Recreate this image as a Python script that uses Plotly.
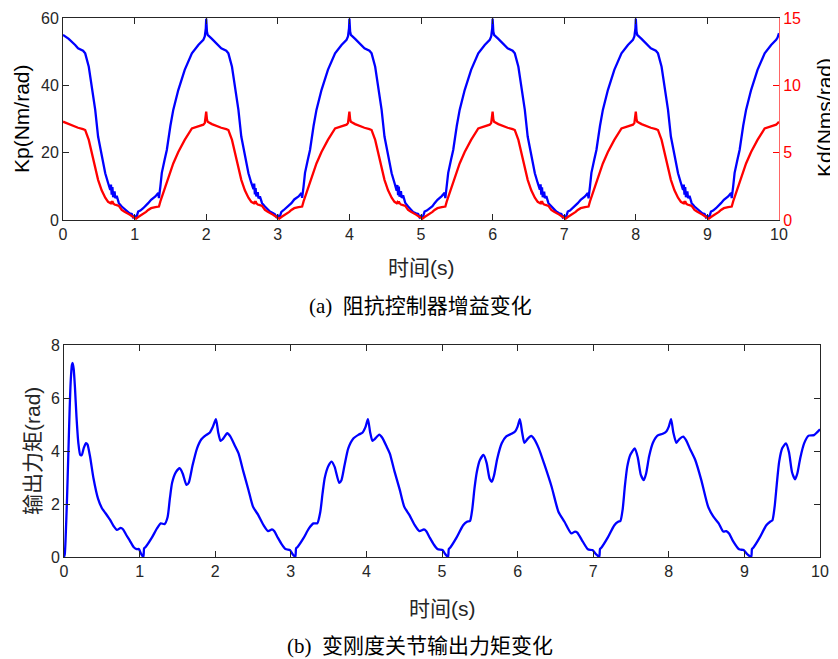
import plotly.graph_objects as go

# ---------------- data: (a) impedance controller gains ----------------
t_c1 = [0, 0.08, 0.17, 0.21, 0.28, 0.31, 0.36, 0.40, 0.45, 0.49, 0.54, 0.59, 0.63, 0.66, 0.67, 0.68, 0.69, 0.70, 0.72, 0.73, 0.75, 0.78, 0.82, 0.86, 0.89, 0.93, 0.96, 0.98, 1.00, 1.02, 1.05, 1.08, 1.12, 1.16, 1.19, 1.23, 1.29, 1.33, 1.34, 1.36, 1.38, 1.42, 1.45, 1.50, 1.54, 1.61, 1.70, 1.80, 1.85, 1.89, 1.96, 1.98, 1.995]
t_c2 = [2.00, 2.01, 2.02, 2.08, 2.17, 2.21, 2.28, 2.31, 2.36, 2.40, 2.45, 2.49, 2.54, 2.59, 2.63, 2.66, 2.67, 2.68, 2.69, 2.70, 2.72, 2.73, 2.75, 2.78, 2.82, 2.86, 2.89, 2.93, 2.96, 2.98, 3.00, 3.02, 3.05, 3.08, 3.12, 3.16, 3.19, 3.23, 3.29, 3.33, 3.34, 3.36, 3.38, 3.42, 3.45, 3.50, 3.54, 3.61, 3.70, 3.80, 3.85, 3.89, 3.96, 3.98, 3.995]
t_c3 = [4.00, 4.01, 4.02, 4.08, 4.17, 4.21, 4.28, 4.31, 4.36, 4.40, 4.45, 4.49, 4.54, 4.59, 4.63, 4.66, 4.67, 4.68, 4.69, 4.70, 4.72, 4.73, 4.75, 4.78, 4.82, 4.86, 4.89, 4.93, 4.96, 4.98, 5.00, 5.02, 5.05, 5.08, 5.12, 5.16, 5.19, 5.23, 5.29, 5.33, 5.34, 5.36, 5.38, 5.42, 5.45, 5.50, 5.54, 5.61, 5.70, 5.80, 5.85, 5.89, 5.96, 5.98, 5.995]
t_c4 = [6.00, 6.01, 6.02, 6.08, 6.17, 6.21, 6.28, 6.31, 6.36, 6.40, 6.45, 6.49, 6.54, 6.59, 6.63, 6.66, 6.67, 6.68, 6.69, 6.70, 6.72, 6.73, 6.75, 6.78, 6.82, 6.86, 6.89, 6.93, 6.96, 6.98, 7.00, 7.02, 7.05, 7.08, 7.12, 7.16, 7.19, 7.23, 7.29, 7.33, 7.34, 7.36, 7.38, 7.42, 7.45, 7.50, 7.54, 7.61, 7.70, 7.80, 7.85, 7.89, 7.96, 7.98, 7.995]
t_c5 = [8.00, 8.01, 8.02, 8.08, 8.17, 8.21, 8.28, 8.31, 8.36, 8.40, 8.45, 8.49, 8.54, 8.59, 8.63, 8.66, 8.67, 8.68, 8.69, 8.70, 8.72, 8.73, 8.75, 8.78, 8.82, 8.86, 8.89, 8.93, 8.96, 8.98, 9.00, 9.02, 9.05, 9.08, 9.12, 9.16, 9.19, 9.23, 9.29, 9.33, 9.34, 9.36, 9.38, 9.42, 9.45, 9.50, 9.54, 9.61, 9.70, 9.80, 9.85, 9.89, 9.96, 9.98, 10.0]

kp_c1 = [55, 53.8, 52, 51, 50.3, 49.5, 45.5, 39.6, 32.7, 24.8, 18.8, 13.9, 11, 8.9, 10.5, 7.5, 9.8, 6.8, 8.5, 6.5, 7.2, 5, 4, 3.2, 2.5, 2, 1.8, 0.8, 1.2, 0.5, 2.5, 2.8, 3.5, 4.2, 5, 6, 7, 8, 6.5, 10, 14, 18, 20.8, 28, 32.7, 38.6, 44.6, 49.5, 51, 52, 53.5, 54.5, 57]
kp_c2 = [59.8, 56, 55, 53.8, 52, 51, 50.3, 49.5, 45.5, 39.6, 32.7, 24.8, 18.8, 13.9, 11, 9.2, 10.8, 7.6, 9.5, 7.0, 8.3, 6.4, 7.0, 5, 4, 3.1, 2.5, 2.1, 1.7, 0.9, 1.3, 0.5, 2.4, 2.9, 3.6, 4.2, 5, 6.1, 7, 8, 6.6, 10, 14, 18, 20.8, 28, 32.7, 38.6, 44.6, 49.5, 51, 52, 53.5, 54.5, 57]
kp_c3 = [59.8, 56, 55, 53.8, 52, 51, 50.3, 49.5, 45.5, 39.6, 32.7, 24.8, 18.8, 13.9, 11, 8.7, 10.4, 7.4, 9.9, 6.9, 8.6, 6.6, 7.3, 5.1, 4, 3.2, 2.4, 2, 1.8, 0.8, 1.2, 0.4, 2.5, 2.8, 3.4, 4.1, 5, 6, 7.1, 8.1, 6.5, 10, 14, 18, 20.8, 28, 32.7, 38.6, 44.6, 49.5, 51, 52, 53.5, 54.5, 57]
kp_c4 = [59.8, 56, 55, 53.8, 52, 51, 50.3, 49.5, 45.5, 39.6, 32.7, 24.8, 18.8, 13.9, 11, 9.0, 10.6, 7.5, 9.7, 6.8, 8.4, 6.5, 7.1, 5, 4.1, 3.2, 2.5, 2, 1.8, 0.8, 1.2, 0.5, 2.5, 2.8, 3.5, 4.2, 5, 6, 7, 8, 6.4, 10, 14, 18, 20.8, 28, 32.7, 38.6, 44.6, 49.5, 51, 52, 53.5, 54.5, 57]
kp_c5 = [59.8, 56, 55, 53.8, 52, 51, 50.3, 49.5, 45.5, 39.6, 32.7, 24.8, 18.8, 13.9, 11, 8.9, 10.5, 7.5, 9.8, 6.8, 8.5, 6.5, 7.2, 5, 4, 3.2, 2.5, 2, 1.8, 0.8, 1.2, 0.5, 2.5, 2.8, 3.5, 4.2, 5, 6, 7, 8, 6.5, 10, 14, 18, 20.8, 28, 32.7, 38.6, 44.6, 49.5, 51, 52, 53.5, 54.2, 55.5]

kd_c1 = [7.30, 7.12, 6.92, 6.85, 6.75, 6.68, 5.95, 5.0, 3.88, 2.98, 2.2, 1.65, 1.35, 1.25, 1.3, 1.2, 1.4, 1.25, 1.15, 1.12, 1.1, 1.05, 0.75, 0.62, 0.5, 0.4, 0.3, 0.22, 0.12, 0.1, 0.22, 0.32, 0.45, 0.6, 0.75, 0.88, 0.95, 1.0, 1.0, 1.38, 1.7, 2.22, 2.75, 3.5, 4.2, 5.05, 5.95, 6.8, 6.9, 6.98, 7.08, 7.2, 7.62]
kd_c2 = [8.05, 7.5, 7.3, 7.12, 6.92, 6.85, 6.75, 6.68, 5.95, 5.0, 3.88, 2.98, 2.2, 1.65, 1.35, 1.25, 1.3, 1.2, 1.4, 1.25, 1.15, 1.12, 1.1, 1.05, 0.75, 0.62, 0.5, 0.4, 0.3, 0.22, 0.12, 0.1, 0.22, 0.32, 0.45, 0.6, 0.75, 0.88, 0.95, 1.0, 1.0, 1.38, 1.7, 2.22, 2.75, 3.5, 4.2, 5.05, 5.95, 6.8, 6.9, 6.98, 7.08, 7.2, 7.62]
kd_c3 = [8.05, 7.5, 7.3, 7.12, 6.92, 6.85, 6.75, 6.68, 5.95, 5.0, 3.88, 2.98, 2.2, 1.65, 1.35, 1.25, 1.32, 1.2, 1.38, 1.25, 1.15, 1.12, 1.1, 1.05, 0.75, 0.62, 0.5, 0.4, 0.3, 0.22, 0.12, 0.1, 0.22, 0.32, 0.45, 0.6, 0.75, 0.88, 0.95, 1.0, 1.0, 1.38, 1.7, 2.22, 2.75, 3.5, 4.2, 5.05, 5.95, 6.8, 6.9, 6.98, 7.08, 7.2, 7.62]
kd_c4 = [8.05, 7.5, 7.3, 7.12, 6.92, 6.85, 6.75, 6.68, 5.95, 5.0, 3.88, 2.98, 2.2, 1.65, 1.35, 1.25, 1.3, 1.2, 1.4, 1.25, 1.15, 1.12, 1.1, 1.05, 0.75, 0.62, 0.5, 0.4, 0.3, 0.22, 0.12, 0.1, 0.22, 0.32, 0.45, 0.6, 0.75, 0.88, 0.95, 1.0, 1.0, 1.38, 1.7, 2.22, 2.75, 3.5, 4.2, 5.05, 5.95, 6.8, 6.9, 6.98, 7.08, 7.2, 7.62]
kd_c5 = [8.05, 7.5, 7.3, 7.12, 6.92, 6.85, 6.75, 6.68, 5.95, 5.0, 3.88, 2.98, 2.2, 1.65, 1.35, 1.25, 1.3, 1.2, 1.4, 1.25, 1.15, 1.12, 1.1, 1.05, 0.75, 0.62, 0.5, 0.4, 0.3, 0.22, 0.12, 0.1, 0.22, 0.32, 0.45, 0.6, 0.75, 0.88, 0.95, 1.0, 1.0, 1.38, 1.7, 2.22, 2.75, 3.5, 4.2, 5.05, 5.95, 6.8, 6.9, 6.98, 7.08, 7.18, 7.3]

t_gain = t_c1 + t_c2 + t_c3 + t_c4 + t_c5
kp = kp_c1 + kp_c2 + kp_c3 + kp_c4 + kp_c5
kd = kd_c1 + kd_c2 + kd_c3 + kd_c4 + kd_c5

# ---------------- data: (b) VSJ output torque ----------------
t_tau = [0, 0.01, 0.02, 0.04, 0.057, 0.075, 0.09, 0.105, 0.115, 0.128, 0.145, 0.165, 0.19, 0.215, 0.235, 0.26, 0.29, 0.31, 0.344, 0.39, 0.45, 0.50, 0.55, 0.61, 0.66, 0.70, 0.75, 0.78, 0.82, 0.87, 0.92, 0.96, 0.99, 1.02, 1.05, 1.06, 1.08, 1.16, 1.23, 1.28, 1.33, 1.37, 1.40, 1.43, 1.48, 1.53, 1.57, 1.62, 1.65, 1.70, 1.76, 1.82, 1.88, 1.93, 1.97,
         2.01, 2.04, 2.07, 2.10, 2.16, 2.20, 2.26, 2.31, 2.37, 2.44, 2.50, 2.57, 2.64, 2.70, 2.75, 2.78, 2.83, 2.88, 2.93, 2.99, 3.02, 3.06, 3.07, 3.09, 3.17, 3.24, 3.30, 3.35, 3.39, 3.42, 3.45, 3.50, 3.54, 3.58, 3.64, 3.67, 3.71, 3.76, 3.83, 3.90, 3.95, 3.99,
         4.02, 4.05, 4.08, 4.11, 4.17, 4.21, 4.27, 4.31, 4.37, 4.44, 4.50, 4.57, 4.64, 4.70, 4.76, 4.79, 4.84, 4.89, 4.94, 5.01, 5.04, 5.08, 5.09, 5.11, 5.19, 5.28, 5.33, 5.37, 5.40, 5.43, 5.46, 5.50, 5.55, 5.59, 5.63, 5.66, 5.69, 5.73, 5.79, 5.85, 5.92, 5.97, 6.00,
         6.03, 6.06, 6.09, 6.13, 6.18, 6.22, 6.28, 6.35, 6.45, 6.54, 6.62, 6.71, 6.76, 6.79, 6.85, 6.93, 6.99, 7.04, 7.08, 7.09, 7.11, 7.19, 7.28, 7.33, 7.36, 7.39, 7.42, 7.45, 7.49, 7.55, 7.59, 7.63, 7.67, 7.70, 7.74, 7.79, 7.85, 7.92, 7.97, 8.00,
         8.03, 8.06, 8.10, 8.14, 8.19, 8.23, 8.28, 8.35, 8.43, 8.52, 8.59, 8.66, 8.72, 8.76, 8.80, 8.85, 8.93, 8.99, 9.04, 9.09, 9.10, 9.12, 9.20, 9.29, 9.34, 9.37, 9.40, 9.43, 9.46, 9.50, 9.55, 9.59, 9.63, 9.67, 9.70, 9.74, 9.79, 9.85, 9.92, 9.96, 10.0]
tau = [0, 0.1, 0.6, 2.2, 3.85, 5.6, 6.7, 7.25, 7.32, 7.1, 6.4, 5.3, 4.3, 3.85, 3.85, 4.1, 4.3, 4.25, 3.8, 2.97, 2.2, 1.85, 1.65, 1.4, 1.15, 1.02, 1.1, 1.05, 0.85, 0.62, 0.38, 0.3, 0.3, 0.12, 0, 0.33, 0.38, 0.72, 1.08, 1.27, 1.24, 1.5, 2.2, 2.8, 3.2, 3.35, 3.15, 2.72, 2.8, 3.45, 4.1, 4.45, 4.6, 4.7, 4.92,
       5.2, 4.7, 4.38, 4.45, 4.67, 4.55, 4.2, 3.9, 3.25, 2.53, 1.9, 1.58, 1.2, 0.98, 1.04, 0.98, 0.72, 0.48, 0.3, 0.26, 0.12, 0, 0.33, 0.38, 0.72, 1.08, 1.27, 1.27, 1.7, 2.4, 3.0, 3.45, 3.6, 3.4, 2.8, 2.9, 3.45, 4.1, 4.48, 4.62, 4.7, 4.92,
       5.2, 4.7, 4.38, 4.45, 4.62, 4.5, 4.15, 3.9, 3.25, 2.55, 1.9, 1.58, 1.2, 0.98, 1.04, 0.98, 0.72, 0.48, 0.3, 0.26, 0.12, 0, 0.3, 0.36, 0.72, 1.2, 1.33, 1.36, 1.8, 2.6, 3.2, 3.65, 3.85, 3.55, 2.95, 2.84, 3.1, 3.7, 4.29, 4.55, 4.65, 4.75, 4.92,
       5.2, 4.7, 4.31, 4.45, 4.57, 4.45, 4.1, 3.53, 2.65, 1.71, 1.33, 0.89, 0.96, 0.92, 0.64, 0.29, 0.26, 0.1, 0, 0.3, 0.36, 0.72, 1.2, 1.33, 1.36, 1.8, 2.7, 3.4, 3.85, 4.1, 3.75, 3.1, 2.9, 3.15, 3.8, 4.31, 4.58, 4.65, 4.75, 4.92,
       5.2, 4.7, 4.31, 4.45, 4.54, 4.4, 4.08, 3.66, 2.9, 1.9, 1.52, 1.27, 0.96, 0.98, 0.88, 0.6, 0.29, 0.26, 0.1, 0, 0.3, 0.36, 0.72, 1.2, 1.33, 1.38, 1.9, 2.8, 3.6, 4.1, 4.29, 3.95, 3.2, 2.93, 3.15, 3.75, 4.29, 4.58, 4.6, 4.7, 4.82]

x_ticks = [0, 1, 2, 3, 4, 5, 6, 7, 8, 9, 10]
kp_ticks = [0, 20, 40, 60]
kd_ticks = [0, 5, 10, 15]
tau_ticks = [0, 2, 4, 6, 8]

# page offset of the figure (browser body margin) compensated here
OFF = 8
W, H = 838 - OFF, 659 - OFF
AX = "#262626"
FONT = "Liberation Sans, Arial, Noto Sans CJK SC"
SERIF = "Liberation Serif, Noto Sans CJK SC"

def px_x(p):
    return (p - OFF) / W

def px_y(p):
    return 1 - (p - OFF) / H

fig = go.Figure()
fig.add_trace(go.Scatter(x=t_gain, y=kp, mode="lines", line=dict(color="#0000ff", width=2.3),
                         xaxis="x", yaxis="y", showlegend=False))
fig.add_trace(go.Scatter(x=t_gain, y=kd, mode="lines", line=dict(color="#ff0000", width=2.3),
                         xaxis="x", yaxis="y2", showlegend=False))
fig.add_trace(go.Scatter(x=t_tau, y=tau, mode="lines", line=dict(color="#0000ff", width=2.3, shape="spline", smoothing=0.6),
                         xaxis="x2", yaxis="y3", showlegend=False))

common_ax = dict(showline=True, linecolor=AX, linewidth=1, ticks="inside", ticklen=6, tickcolor=AX,
                 showgrid=False, zeroline=False, automargin=False,
                 tickfont=dict(family=FONT, size=16, color=AX))

fig.update_layout(
    template="none",
    width=W, height=H, autosize=False,
    margin=dict(l=0, r=0, t=0, b=0, pad=0),
    paper_bgcolor="white", plot_bgcolor="white",
    xaxis=dict(domain=[px_x(63), px_x(779)], anchor="y", range=[0, 10], tickvals=x_ticks,
               mirror="ticks", **common_ax),
    yaxis=dict(domain=[px_y(220), px_y(18)], anchor="x", range=[0, 60], tickvals=kp_ticks, **common_ax),
    yaxis2=dict(overlaying="y", side="right", anchor="x", range=[0, 15], tickvals=kd_ticks,
                showline=True, linecolor="#ff6666", linewidth=1, ticks="inside", ticklen=6, tickcolor="#ff0000",
                showgrid=False, zeroline=False, automargin=False,
                tickfont=dict(family=FONT, size=16, color="#ff0000")),
    xaxis2=dict(domain=[px_x(64), px_x(820)], anchor="y3", range=[0, 10], tickvals=x_ticks,
                mirror="ticks", **common_ax),
    yaxis3=dict(domain=[px_y(557), px_y(345)], anchor="x2", range=[0, 8], tickvals=tau_ticks,
                mirror="ticks", **common_ax),
)

ann = []
ann.append(dict(text="Kp(Nm/rad)", x=px_x(21), y=px_y(119), textangle=-90,
                font=dict(family=FONT, size=21, color="#000000")))
ann.append(dict(text="Kd(Nms/rad)", x=px_x(824), y=px_y(118), textangle=-90,
                font=dict(family=FONT, size=21, color="#000000")))
ann.append(dict(text="时间(s)", x=px_x(421), y=px_y(267),
                font=dict(family=FONT, size=21, color=AX)))
ann.append(dict(text="(a)  阻抗控制器增益变化", x=px_x(420), y=px_y(306),
                font=dict(family=SERIF, size=21, color="#000000")))
ann.append(dict(text="输出力矩(rad)", x=px_x(32), y=px_y(451), textangle=-90,
                font=dict(family=FONT, size=21, color=AX)))
ann.append(dict(text="时间(s)", x=px_x(442), y=px_y(608),
                font=dict(family=FONT, size=21, color=AX)))
ann.append(dict(text="(b)  变刚度关节输出力矩变化", x=px_x(420), y=px_y(646),
                font=dict(family=SERIF, size=21, color="#000000")))
for a in ann:
    a.update(xref="paper", yref="paper", showarrow=False, xanchor="center", yanchor="middle")
fig.update_layout(annotations=ann)

fig.write_html("out.html")
